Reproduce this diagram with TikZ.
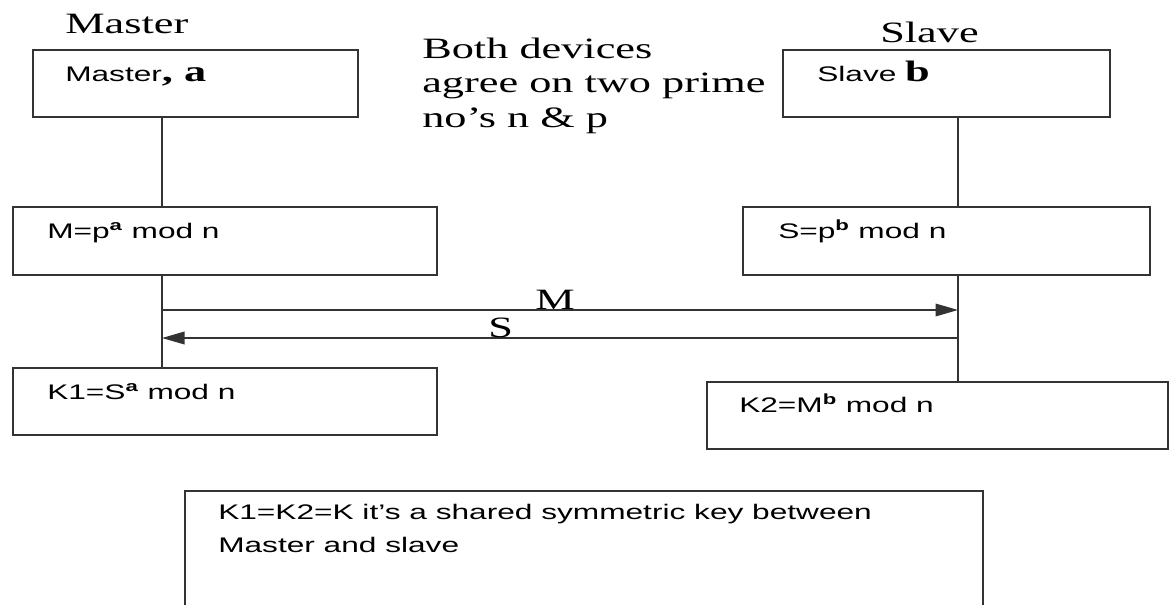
\documentclass[tikz,border=0pt]{standalone}
\usepackage{fontspec}
\setmainfont{Liberation Serif}[FakeStretch=1.5]
\setsansfont{Liberation Sans}[FakeStretch=1.5]
\usetikzlibrary{arrows.meta,fit}

\newcommand{\bigbold}[1]{\textrm{\fontsize{21}{24.5}\selectfont\textbf{#1}}}

\begin{document}
\begin{tikzpicture}[x=0.025cm, y=-0.025cm,
		box/.style={draw=black!80, line width=1pt, rectangle, inner sep=0pt},
		boxtext/.style={font=\sffamily\fontsize{15}{22.8}\selectfont, anchor=base west, inner sep=0pt, align=left},
		title/.style={font=\rmfamily\fontsize{21}{24.5}\selectfont, anchor=base west, inner sep=0pt, align=left},
		link/.style={draw=black!80, line width=1pt},
		msg/.style={link, -{Triangle[length=16pt,width=9pt]}}]
			\clip (0,0) rectangle (1175,604);
			% the two parties
			\node[title] (mastertitle) at (65,34) {Master};
			\node[title] (slavetitle) at (880,43) {Slave};
			% base of a multi-line node is its last line
			\node[title] (agree) at (422,127) {Both devices\\agree on two prime\\no's n \& p};
			% boxes
			\node[box, fit={(33,50) (358,117)}] (master) {};
			\node[box, fit={(783,50) (1110,117)}] (slave) {};
			\node[box, fit={(13,207) (437,275)}] (mval) {};
			\node[box, fit={(743,207) (1150,275)}] (sval) {};
			\node[box, fit={(13,368) (437,435)}] (kone) {};
			\node[box, fit={(707,382) (1168,449)}] (ktwo) {};
			\node[box, fit={(185,491) (983,640)}] (shared) {};
			\node[boxtext] (masterlbl) at (65,82) {Master\bigbold{, a}};
			\node[boxtext] (slavelbl) at (817,82) {Slave \bigbold{b}};
			\node[boxtext] (mvallbl) at (47,238) {M=p\textsuperscript{\textbf{a}} mod n};
			\node[boxtext] (svallbl) at (778,238) {S=p\textsuperscript{\textbf{b}} mod n};
			\node[boxtext] (konelbl) at (47,399) {K1=S\textsuperscript{\textbf{a}} mod n};
			\node[boxtext] (ktwolbl) at (739,412) {K2=M\textsuperscript{\textbf{b}} mod n};
			\node[boxtext] (sharedlbl) at (218,552) {K1=K2=K it’s a shared symmetric key between\\Master and slave};
			% life lines
			\coordinate (mx) at (162,0);
			\coordinate (sx) at (958,0);
			\draw[link] (master.south -| mx) -- (mval.north -| mx);
			\draw[link] (mval.south -| mx) -- (kone.north -| mx);
			\draw[link] (slave.south -| sx) -- (sval.north -| sx);
			\draw[link] (sval.south -| sx) -- (ktwo.north -| sx);
			% exchange of M and S
			\coordinate (mfrom) at (162,310);
			\coordinate (mto) at (958,310);
			\coordinate (sfrom) at (958,338);
			\coordinate (sto) at (162,338);
			\draw[msg] (mfrom) -- (mto);
			\draw[msg] (sfrom) -- (sto);
			\node[title] (mlbl) at (535,309) {M};
			\node[title] (slbl) at (488,337) {S};
		\end{tikzpicture}
\end{document}
